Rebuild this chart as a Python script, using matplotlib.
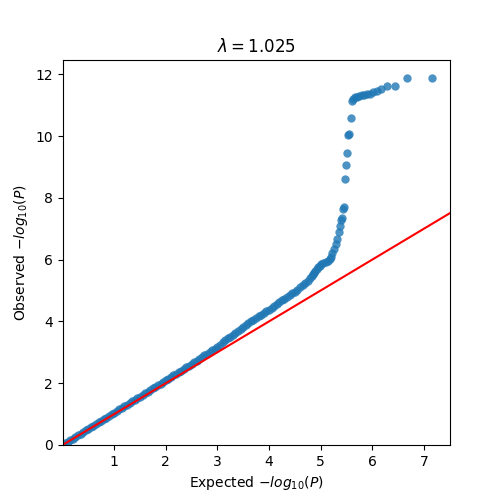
import numpy as np
import matplotlib
matplotlib.use("Agg")
import matplotlib.pyplot as plt

# expected vs observed -log10(P)
expected = [0.00, 0.05, 0.10, 0.15, 0.20, 0.25, 0.30, 0.35, 0.40, 0.45,
            0.50, 0.55, 0.60, 0.65, 0.70, 0.75, 0.80, 0.85, 0.90, 0.95,
            1.00, 1.05, 1.10, 1.15, 1.20, 1.25, 1.30, 1.35, 1.40, 1.45,
            1.50, 1.55, 1.60, 1.65, 1.70, 1.75, 1.80, 1.85, 1.90, 1.95,
            2.00, 2.05, 2.10, 2.15, 2.20, 2.25, 2.30, 2.35, 2.40, 2.45,
            2.50, 2.55, 2.60, 2.65, 2.70, 2.75, 2.80, 2.85, 2.90, 2.95,
            3.00, 3.05, 3.10, 3.15, 3.20, 3.25, 3.30, 3.35, 3.40, 3.45,
            3.50, 3.55, 3.60, 3.65, 3.70, 3.75, 3.80, 3.85, 3.90, 3.95,
            4.00, 4.05, 4.10, 4.15, 4.20, 4.25, 4.30, 4.35, 4.40, 4.45,
            4.50, 4.55, 4.60, 4.65, 4.70, 4.75, 4.80, 4.83, 4.85, 4.88,
            4.90, 4.93, 4.95, 4.98, 5.00, 5.05, 5.10, 5.15, 5.18, 5.20,
            5.23, 5.26, 5.29, 5.32, 5.35, 5.38, 5.40, 5.42, 5.44, 5.45,
            5.48, 5.50, 5.52, 5.54, 5.55, 5.58, 5.60, 5.63, 5.66,
            5.70, 5.75, 5.80, 5.85, 5.90, 5.95, 6.02, 6.10, 6.18,
            6.29, 6.44, 6.67, 7.15]
observed = [0.00, 0.05, 0.10, 0.16, 0.21, 0.26, 0.31, 0.37, 0.42, 0.47,
            0.52, 0.58, 0.63, 0.68, 0.73, 0.79, 0.84, 0.89, 0.94, 1.00,
            1.05, 1.10, 1.15, 1.21, 1.26, 1.31, 1.36, 1.42, 1.47, 1.52,
            1.57, 1.63, 1.68, 1.73, 1.78, 1.84, 1.89, 1.94, 1.99, 2.05,
            2.10, 2.15, 2.20, 2.26, 2.31, 2.36, 2.41, 2.47, 2.52, 2.57,
            2.62, 2.68, 2.73, 2.79, 2.84, 2.90, 2.95, 3.01, 3.06, 3.12,
            3.18, 3.25, 3.32, 3.39, 3.45, 3.51, 3.57, 3.63, 3.69, 3.76,
            3.82, 3.88, 3.94, 4.00, 4.05, 4.11, 4.16, 4.22, 4.27, 4.33,
            4.38, 4.44, 4.50, 4.56, 4.62, 4.68, 4.74, 4.80, 4.85, 4.91,
            4.96, 5.03, 5.10, 5.17, 5.25, 5.32, 5.40, 5.47, 5.52, 5.58,
            5.64, 5.70, 5.75, 5.80, 5.85, 5.90, 5.93, 5.97, 6.02, 6.08,
            6.20, 6.35, 6.50, 6.68, 6.88, 7.10, 7.30, 7.36, 7.64, 7.70,
            8.61, 9.05, 9.44, 10.02, 10.08, 10.60, 11.15, 11.20, 11.25,
            11.28, 11.30, 11.32, 11.33, 11.35, 11.37, 11.42, 11.47, 11.52,
            11.62, 11.62, 11.87, 11.87]
lam = 1.025

x = np.array(expected)
y = np.array(observed)

fig, ax = plt.subplots(figsize=(5, 5), dpi=100)
ax.scatter(x, y, s=36, alpha=0.8, linewidths=0)
xmax = x.max() * 1.05
ymax = y.max() * 1.05
ax.plot([0, xmax], [0, xmax], color='red')
ax.set_xlim(0, xmax)
ax.set_ylim(0, ymax)
ax.set_xticks([1, 2, 3, 4, 5, 6, 7])
ax.set_title(r'$\lambda = %.3f$' % lam)
ax.set_xlabel(r'Expected $-log_{10}(P)$')
ax.set_ylabel(r'Observed $-log_{10}(P)$')
fig.savefig("out.png")
